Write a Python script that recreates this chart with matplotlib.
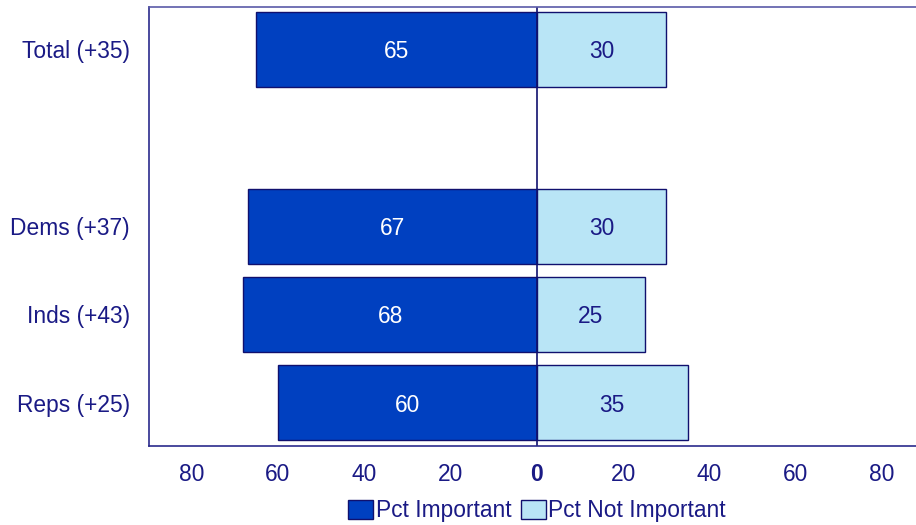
import numpy as np
import matplotlib.pyplot as plt
from matplotlib.patches import Patch

# net importance by party, diverging bars
categories = ['Total (+35)', 'Dems (+37)', 'Inds (+43)', 'Reps (+25)']
positions = [4, 2, 1, 0]
important = [65, 67, 68, 60]
not_important = [30, 30, 25, 35]
xticks = [-80, -60, -40, -20, 0, 20, 40, 60, 80]

navy = '#1a1a85'
dark = '#0040c0'
light = '#b9e5f6'
edge = '#10106e'

plt.rcParams['font.family'] = ['Liberation Sans', 'DejaVu Sans']
fs = 16.4

fig = plt.figure(figsize=(9.16, 5.25), dpi=100)
ax = fig.add_axes([148.5 / 916, 1 - 446 / 525, (925 - 148.5) / 916, (446 - 7) / 525])

h = 0.85
ax.barh(positions, [-v for v in important], height=h, color=dark, edgecolor=edge, linewidth=1)
ax.barh(positions, not_important, height=h, color=light, edgecolor=edge, linewidth=1)

for p, a, b in zip(positions, important, not_important):
    ax.text(-a / 2, p, str(a), ha='center', va='center_baseline', color='white', fontsize=fs)
    ax.text(b / 2, p, str(b), ha='center', va='center_baseline', color=navy, fontsize=fs)

ax.axvline(0, color=edge, lw=1.2)

ax.set_xlim(-90, 90)
ax.set_ylim(-0.49, 4.48)
ax.set_yticks(positions)
ax.set_yticklabels(categories, fontsize=fs, color=navy)
ax.set_xticks(xticks)
ax.set_xticklabels([str(abs(t)) for t in xticks], fontsize=fs, color=navy)
for lab, t in zip(ax.get_xticklabels(), xticks):
    if t == 0:
        lab.set_fontweight('bold')
ax.tick_params(axis='x', length=0, pad=12)
ax.tick_params(axis='y', length=0, pad=13.5)

for s in ax.spines.values():
    s.set_color('#2b2b8c')
    s.set_linewidth(1.2)
ax.spines['top'].set_color('#5a5aa8')
ax.spines['right'].set_visible(False)

handles = [Patch(facecolor=dark, edgecolor=edge, label='Pct Important'),
           Patch(facecolor=light, edgecolor=edge, label='Pct Not Important')]
leg = fig.legend(handles=handles, loc='center', bbox_to_anchor=(537 / 916, 1 - 511 / 525),
                 ncol=2, frameon=False, fontsize=fs, handlelength=1.1, handleheight=0.95,
                 handletextpad=0.12, columnspacing=0.4)
for t in leg.get_texts():
    t.set_color(navy)

fig.savefig('out.png', dpi=100)
